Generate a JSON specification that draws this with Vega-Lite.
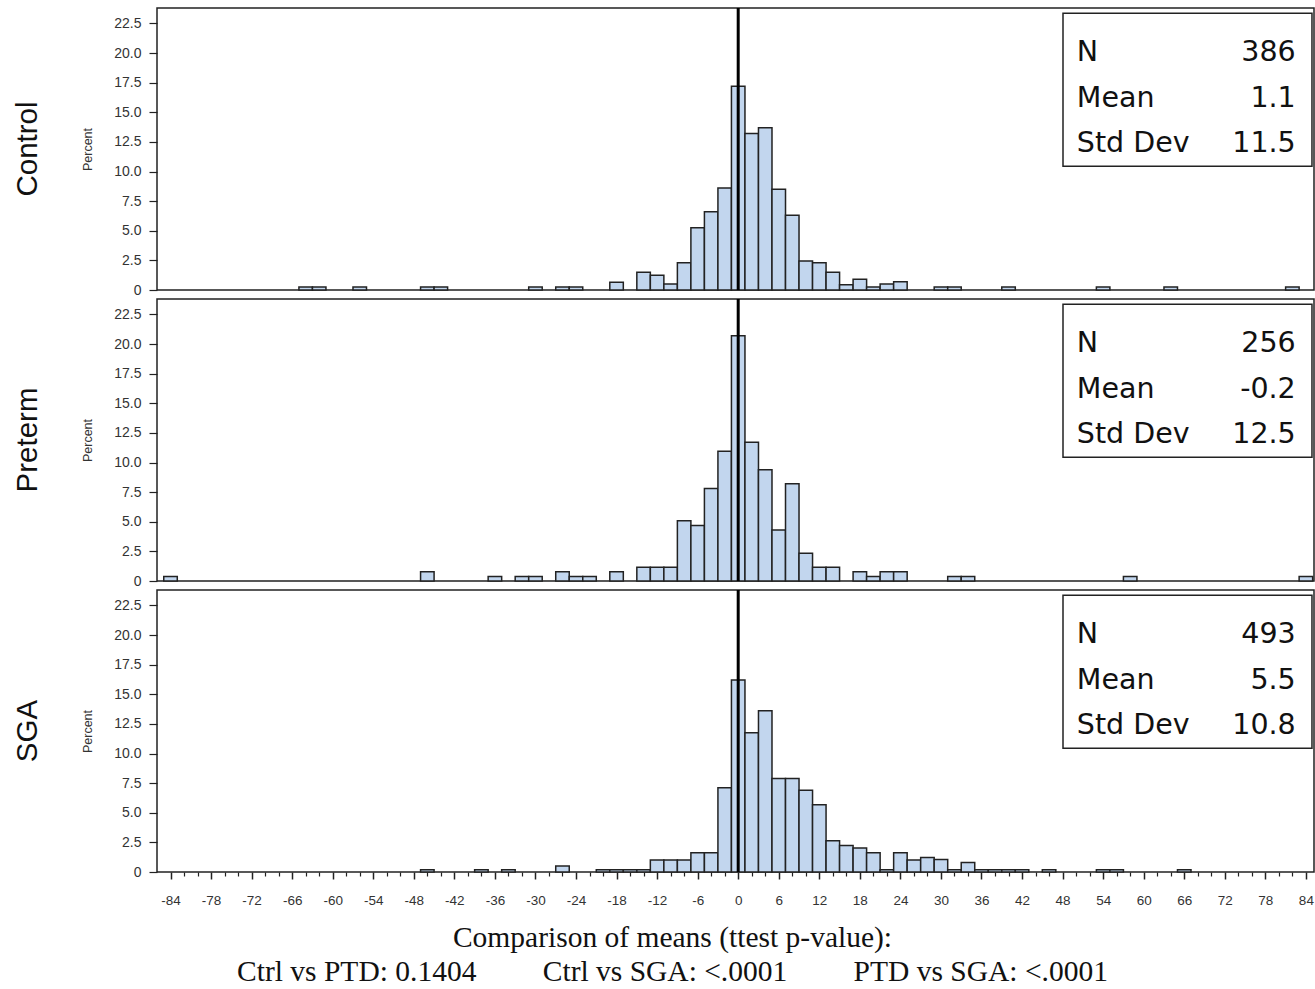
{
  "$schema": "https://vega.github.io/schema/vega-lite/v6.json",
  "padding": {"left": 12, "top": 5, "right": 0, "bottom": 0},
  "spacing": 9,
  "bounds": "flush",
  "config": {
    "view": {"stroke": "#222", "strokeWidth": 1.5},
    "font": "Liberation Sans",
    "axis": {"grid": false, "labelFont": "Liberation Sans", "titleFont": "Liberation Sans"},
    "text": {"font": "DejaVu Sans", "fontSize": 28.5, "color": "#111", "baseline": "middle"}
  },
  "datasets": {
    "control": [
      {"lo": -65, "hi": -63, "pct": 0.26}, {"lo": -63, "hi": -61, "pct": 0.26}, {"lo": -57, "hi": -55, "pct": 0.26},
      {"lo": -47, "hi": -45, "pct": 0.26}, {"lo": -45, "hi": -43, "pct": 0.26}, {"lo": -31, "hi": -29, "pct": 0.26},
      {"lo": -27, "hi": -25, "pct": 0.26}, {"lo": -25, "hi": -23, "pct": 0.26}, {"lo": -19, "hi": -17, "pct": 0.65},
      {"lo": -15, "hi": -13, "pct": 1.5}, {"lo": -13, "hi": -11, "pct": 1.25}, {"lo": -11, "hi": -9, "pct": 0.5},
      {"lo": -9, "hi": -7, "pct": 2.3}, {"lo": -7, "hi": -5, "pct": 5.25}, {"lo": -5, "hi": -3, "pct": 6.6},
      {"lo": -3, "hi": -1, "pct": 8.6}, {"lo": -1, "hi": 1, "pct": 17.2}, {"lo": 1, "hi": 3, "pct": 13.2},
      {"lo": 3, "hi": 5, "pct": 13.7}, {"lo": 5, "hi": 7, "pct": 8.5}, {"lo": 7, "hi": 9, "pct": 6.3},
      {"lo": 9, "hi": 11, "pct": 2.45}, {"lo": 11, "hi": 13, "pct": 2.3}, {"lo": 13, "hi": 15, "pct": 1.5},
      {"lo": 15, "hi": 17, "pct": 0.45}, {"lo": 17, "hi": 19, "pct": 0.9}, {"lo": 19, "hi": 21, "pct": 0.26},
      {"lo": 21, "hi": 23, "pct": 0.5}, {"lo": 23, "hi": 25, "pct": 0.7}, {"lo": 29, "hi": 31, "pct": 0.26},
      {"lo": 31, "hi": 33, "pct": 0.26}, {"lo": 39, "hi": 41, "pct": 0.26}, {"lo": 53, "hi": 55, "pct": 0.26},
      {"lo": 63, "hi": 65, "pct": 0.26}, {"lo": 81, "hi": 83, "pct": 0.26}
    ],
    "preterm": [
      {"lo": -85, "hi": -83, "pct": 0.39}, {"lo": -47, "hi": -45, "pct": 0.78}, {"lo": -37, "hi": -35, "pct": 0.39},
      {"lo": -33, "hi": -31, "pct": 0.39}, {"lo": -31, "hi": -29, "pct": 0.39}, {"lo": -27, "hi": -25, "pct": 0.78},
      {"lo": -25, "hi": -23, "pct": 0.39}, {"lo": -23, "hi": -21, "pct": 0.39}, {"lo": -19, "hi": -17, "pct": 0.78},
      {"lo": -15, "hi": -13, "pct": 1.17}, {"lo": -13, "hi": -11, "pct": 1.17}, {"lo": -11, "hi": -9, "pct": 1.17},
      {"lo": -9, "hi": -7, "pct": 5.08}, {"lo": -7, "hi": -5, "pct": 4.69}, {"lo": -5, "hi": -3, "pct": 7.81},
      {"lo": -3, "hi": -1, "pct": 10.94}, {"lo": -1, "hi": 1, "pct": 20.7}, {"lo": 1, "hi": 3, "pct": 11.72},
      {"lo": 3, "hi": 5, "pct": 9.38}, {"lo": 5, "hi": 7, "pct": 4.3}, {"lo": 7, "hi": 9, "pct": 8.2},
      {"lo": 9, "hi": 11, "pct": 2.34}, {"lo": 11, "hi": 13, "pct": 1.17}, {"lo": 13, "hi": 15, "pct": 1.17},
      {"lo": 17, "hi": 19, "pct": 0.78}, {"lo": 19, "hi": 21, "pct": 0.39}, {"lo": 21, "hi": 23, "pct": 0.78},
      {"lo": 23, "hi": 25, "pct": 0.78}, {"lo": 31, "hi": 33, "pct": 0.39}, {"lo": 33, "hi": 35, "pct": 0.39},
      {"lo": 57, "hi": 59, "pct": 0.39}, {"lo": 83, "hi": 85, "pct": 0.39}
    ],
    "sga": [
      {"lo": -47, "hi": -45, "pct": 0.2}, {"lo": -39, "hi": -37, "pct": 0.2}, {"lo": -35, "hi": -33, "pct": 0.2},
      {"lo": -27, "hi": -25, "pct": 0.5}, {"lo": -21, "hi": -19, "pct": 0.2}, {"lo": -19, "hi": -17, "pct": 0.2},
      {"lo": -17, "hi": -15, "pct": 0.2}, {"lo": -15, "hi": -13, "pct": 0.2}, {"lo": -13, "hi": -11, "pct": 1.01},
      {"lo": -11, "hi": -9, "pct": 1.01}, {"lo": -9, "hi": -7, "pct": 1.01}, {"lo": -7, "hi": -5, "pct": 1.62},
      {"lo": -5, "hi": -3, "pct": 1.62}, {"lo": -3, "hi": -1, "pct": 7.1}, {"lo": -1, "hi": 1, "pct": 16.2},
      {"lo": 1, "hi": 3, "pct": 11.76}, {"lo": 3, "hi": 5, "pct": 13.6}, {"lo": 5, "hi": 7, "pct": 7.9},
      {"lo": 7, "hi": 9, "pct": 7.9}, {"lo": 9, "hi": 11, "pct": 6.9}, {"lo": 11, "hi": 13, "pct": 5.68},
      {"lo": 13, "hi": 15, "pct": 2.64}, {"lo": 15, "hi": 17, "pct": 2.23}, {"lo": 17, "hi": 19, "pct": 2.03},
      {"lo": 19, "hi": 21, "pct": 1.62}, {"lo": 21, "hi": 23, "pct": 0.2}, {"lo": 23, "hi": 25, "pct": 1.62},
      {"lo": 25, "hi": 27, "pct": 1.01}, {"lo": 27, "hi": 29, "pct": 1.22}, {"lo": 29, "hi": 31, "pct": 1.05},
      {"lo": 31, "hi": 33, "pct": 0.2}, {"lo": 33, "hi": 35, "pct": 0.81}, {"lo": 35, "hi": 37, "pct": 0.2},
      {"lo": 37, "hi": 39, "pct": 0.2}, {"lo": 39, "hi": 41, "pct": 0.2}, {"lo": 41, "hi": 43, "pct": 0.2},
      {"lo": 45, "hi": 47, "pct": 0.2}, {"lo": 53, "hi": 55, "pct": 0.2}, {"lo": 55, "hi": 57, "pct": 0.2},
      {"lo": 65, "hi": 67, "pct": 0.2}
    ],
    "stats_control": [{"stat": "N", "value": "386"}, {"stat": "Mean", "value": "1.1"}, {"stat": "Std Dev", "value": "11.5"}],
    "stats_preterm": [{"stat": "N", "value": "256"}, {"stat": "Mean", "value": "-0.2"}, {"stat": "Std Dev", "value": "12.5"}],
    "stats_sga": [{"stat": "N", "value": "493"}, {"stat": "Mean", "value": "5.5"}, {"stat": "Std Dev", "value": "10.8"}]
  },
  "vconcat": [
    {
      "width": 1157, "height": 282,
      "title": {"text": "Control", "orient": "left", "anchor": "middle", "fontSize": 29.5, "fontWeight": "normal", "font": "Liberation Sans", "color": "#111", "offset": 38},
      "resolve": {"axis": {"x": "independent", "y": "independent"}},
      "layer": [
        {
          "data": {"name": "control"},
          "mark": {"type": "rect", "fill": "#c2d6ee", "stroke": "#222", "strokeWidth": 1.5},
          "encoding": {
            "x": {"field": "lo", "type": "quantitative", "scale": {"domain": [-86, 85.2], "nice": false, "zero": false}, "axis": null},
            "x2": {"field": "hi"},
            "y": {"field": "pct", "type": "quantitative", "scale": {"domain": [0, 23.8], "nice": false},
              "axis": {"values": [0, 2.5, 5, 7.5, 10, 12.5, 15, 17.5, 20, 22.5], "labelExpr": "datum.value == 0 ? '0' : format(datum.value, '.1f')", "labelOverlap": false, "labelFlush": false, "title": "Percent", "titleFontSize": 12.5, "titleFontWeight": "normal", "titleColor": "#333", "labelFontSize": 14, "labelColor": "#333", "tickSize": 8, "tickColor": "#222", "tickWidth": 1.2, "domain": false, "labelPadding": 8, "titlePadding": 19}},
            "y2": {"datum": 0}
          }
        },
        {"data": {"values": [{}]}, "mark": {"type": "rule", "stroke": "#000", "strokeWidth": 3}, "encoding": {"x": {"datum": 0, "axis": null}}},
        {"data": {"values": [{}]}, "mark": {"type": "rect", "fill": "white", "stroke": "#222", "strokeWidth": 1.5},
          "encoding": {"x": {"datum": 48.06, "axis": null}, "x2": {"datum": 84.9}, "y": {"datum": 23.35, "axis": null}, "y2": {"datum": 10.45}}},
        {"data": {"name": "stats_control"}, "transform": [{"filter": "datum.stat == 'N'"}], "mark": {"type": "text", "align": "left"}, "encoding": {"x": {"datum": 50.1, "axis": null}, "y": {"datum": 20.09, "axis": null}, "text": {"field": "stat"}}},
        {"data": {"name": "stats_control"}, "transform": [{"filter": "datum.stat == 'Mean'"}], "mark": {"type": "text", "align": "left"}, "encoding": {"x": {"datum": 50.1, "axis": null}, "y": {"datum": 16.2, "axis": null}, "text": {"field": "stat"}}},
        {"data": {"name": "stats_control"}, "transform": [{"filter": "datum.stat == 'Std Dev'"}], "mark": {"type": "text", "align": "left"}, "encoding": {"x": {"datum": 50.1, "axis": null}, "y": {"datum": 12.41, "axis": null}, "text": {"field": "stat"}}},
        {"data": {"name": "stats_control"}, "transform": [{"filter": "datum.stat == 'N'"}], "mark": {"type": "text", "align": "right"}, "encoding": {"x": {"datum": 82.5, "axis": null}, "y": {"datum": 20.09, "axis": null}, "text": {"field": "value"}}},
        {"data": {"name": "stats_control"}, "transform": [{"filter": "datum.stat == 'Mean'"}], "mark": {"type": "text", "align": "right"}, "encoding": {"x": {"datum": 82.5, "axis": null}, "y": {"datum": 16.2, "axis": null}, "text": {"field": "value"}}},
        {"data": {"name": "stats_control"}, "transform": [{"filter": "datum.stat == 'Std Dev'"}], "mark": {"type": "text", "align": "right"}, "encoding": {"x": {"datum": 82.5, "axis": null}, "y": {"datum": 12.41, "axis": null}, "text": {"field": "value"}}}
      ]
    },
    {
      "width": 1157, "height": 282,
      "title": {"text": "Preterm", "orient": "left", "anchor": "middle", "fontSize": 29.5, "fontWeight": "normal", "font": "Liberation Sans", "color": "#111", "offset": 38},
      "resolve": {"axis": {"x": "independent", "y": "independent"}},
      "layer": [
        {
          "data": {"name": "preterm"},
          "mark": {"type": "rect", "fill": "#c2d6ee", "stroke": "#222", "strokeWidth": 1.5},
          "encoding": {
            "x": {"field": "lo", "type": "quantitative", "scale": {"domain": [-86, 85.2], "nice": false, "zero": false}, "axis": null},
            "x2": {"field": "hi"},
            "y": {"field": "pct", "type": "quantitative", "scale": {"domain": [0, 23.8], "nice": false},
              "axis": {"values": [0, 2.5, 5, 7.5, 10, 12.5, 15, 17.5, 20, 22.5], "labelExpr": "datum.value == 0 ? '0' : format(datum.value, '.1f')", "labelOverlap": false, "labelFlush": false, "title": "Percent", "titleFontSize": 12.5, "titleFontWeight": "normal", "titleColor": "#333", "labelFontSize": 14, "labelColor": "#333", "tickSize": 8, "tickColor": "#222", "tickWidth": 1.2, "domain": false, "labelPadding": 8, "titlePadding": 19}},
            "y2": {"datum": 0}
          }
        },
        {"data": {"values": [{}]}, "mark": {"type": "rule", "stroke": "#000", "strokeWidth": 3}, "encoding": {"x": {"datum": 0, "axis": null}}},
        {"data": {"values": [{}]}, "mark": {"type": "rect", "fill": "white", "stroke": "#222", "strokeWidth": 1.5},
          "encoding": {"x": {"datum": 48.06, "axis": null}, "x2": {"datum": 84.9}, "y": {"datum": 23.35, "axis": null}, "y2": {"datum": 10.45}}},
        {"data": {"name": "stats_preterm"}, "transform": [{"filter": "datum.stat == 'N'"}], "mark": {"type": "text", "align": "left"}, "encoding": {"x": {"datum": 50.1, "axis": null}, "y": {"datum": 20.09, "axis": null}, "text": {"field": "stat"}}},
        {"data": {"name": "stats_preterm"}, "transform": [{"filter": "datum.stat == 'Mean'"}], "mark": {"type": "text", "align": "left"}, "encoding": {"x": {"datum": 50.1, "axis": null}, "y": {"datum": 16.2, "axis": null}, "text": {"field": "stat"}}},
        {"data": {"name": "stats_preterm"}, "transform": [{"filter": "datum.stat == 'Std Dev'"}], "mark": {"type": "text", "align": "left"}, "encoding": {"x": {"datum": 50.1, "axis": null}, "y": {"datum": 12.41, "axis": null}, "text": {"field": "stat"}}},
        {"data": {"name": "stats_preterm"}, "transform": [{"filter": "datum.stat == 'N'"}], "mark": {"type": "text", "align": "right"}, "encoding": {"x": {"datum": 82.5, "axis": null}, "y": {"datum": 20.09, "axis": null}, "text": {"field": "value"}}},
        {"data": {"name": "stats_preterm"}, "transform": [{"filter": "datum.stat == 'Mean'"}], "mark": {"type": "text", "align": "right"}, "encoding": {"x": {"datum": 82.5, "axis": null}, "y": {"datum": 16.2, "axis": null}, "text": {"field": "value"}}},
        {"data": {"name": "stats_preterm"}, "transform": [{"filter": "datum.stat == 'Std Dev'"}], "mark": {"type": "text", "align": "right"}, "encoding": {"x": {"datum": 82.5, "axis": null}, "y": {"datum": 12.41, "axis": null}, "text": {"field": "value"}}}
      ]
    },
    {
      "width": 1157, "height": 282,
      "title": {"text": "SGA", "orient": "left", "anchor": "middle", "fontSize": 29.5, "fontWeight": "normal", "font": "Liberation Sans", "color": "#111", "offset": 38},
      "resolve": {"axis": {"x": "independent", "y": "independent"}},
      "layer": [
        {
          "data": {"name": "sga"},
          "mark": {"type": "rect", "fill": "#c2d6ee", "stroke": "#222", "strokeWidth": 1.5},
          "encoding": {
            "x": {"field": "lo", "type": "quantitative", "scale": {"domain": [-86, 85.2], "nice": false, "zero": false},
              "axis": {"orient": "bottom", "values": [-84, -78, -72, -66, -60, -54, -48, -42, -36, -30, -24, -18, -12, -6, 0, 6, 12, 18, 24, 30, 36, 42, 48, 54, 60, 66, 72, 78, 84], "labelExpr": "'' + datum.value", "labelFontSize": 13.5, "labelColor": "#333", "tickSize": 7, "tickColor": "#222", "tickWidth": 1.5, "domain": false, "labelPadding": 14, "labelFlush": false, "labelOverlap": false,
                "title": ["Comparison of means (ttest p-value):", "Ctrl vs PTD: 0.1404\u00a0\u00a0\u00a0\u00a0\u00a0\u00a0\u00a0\u00a0\u00a0Ctrl vs SGA: <.0001\u00a0\u00a0\u00a0\u00a0\u00a0\u00a0\u00a0\u00a0\u00a0PTD vs SGA: <.0001"], "titleFont": "Liberation Serif", "titleFontSize": 29.5, "titleFontWeight": "normal", "titleColor": "#111", "titleLineHeight": 34, "titlePadding": 17, "titleX": 515, "titleAlign": "center"}},
            "x2": {"field": "hi"},
            "y": {"field": "pct", "type": "quantitative", "scale": {"domain": [0, 23.8], "nice": false},
              "axis": {"values": [0, 2.5, 5, 7.5, 10, 12.5, 15, 17.5, 20, 22.5], "labelExpr": "datum.value == 0 ? '0' : format(datum.value, '.1f')", "labelOverlap": false, "labelFlush": false, "title": "Percent", "titleFontSize": 12.5, "titleFontWeight": "normal", "titleColor": "#333", "labelFontSize": 14, "labelColor": "#333", "tickSize": 8, "tickColor": "#222", "tickWidth": 1.2, "domain": false, "labelPadding": 8, "titlePadding": 19}},
            "y2": {"datum": 0}
          }
        },
        {"data": {"values": [{}]}, "mark": {"type": "rule", "stroke": "#000", "strokeWidth": 3},
          "encoding": {"x": {"datum": 0, "axis": {"orient": "bottom", "values": [-82, -80, -76, -74, -70, -68, -64, -62, -58, -56, -52, -50, -46, -44, -40, -38, -34, -32, -28, -26, -22, -20, -16, -14, -10, -8, -4, -2, 2, 4, 8, 10, 14, 16, 20, 22, 26, 28, 32, 34, 38, 40, 44, 46, 50, 52, 56, 58, 62, 64, 68, 70, 74, 76, 80, 82], "labels": false, "title": null, "domain": false, "tickSize": 4, "tickColor": "#222", "tickWidth": 1.2}}}},
        {"data": {"values": [{}]}, "mark": {"type": "rect", "fill": "white", "stroke": "#222", "strokeWidth": 1.5},
          "encoding": {"x": {"datum": 48.06, "axis": null}, "x2": {"datum": 84.9}, "y": {"datum": 23.35, "axis": null}, "y2": {"datum": 10.45}}},
        {"data": {"name": "stats_sga"}, "transform": [{"filter": "datum.stat == 'N'"}], "mark": {"type": "text", "align": "left"}, "encoding": {"x": {"datum": 50.1, "axis": null}, "y": {"datum": 20.09, "axis": null}, "text": {"field": "stat"}}},
        {"data": {"name": "stats_sga"}, "transform": [{"filter": "datum.stat == 'Mean'"}], "mark": {"type": "text", "align": "left"}, "encoding": {"x": {"datum": 50.1, "axis": null}, "y": {"datum": 16.2, "axis": null}, "text": {"field": "stat"}}},
        {"data": {"name": "stats_sga"}, "transform": [{"filter": "datum.stat == 'Std Dev'"}], "mark": {"type": "text", "align": "left"}, "encoding": {"x": {"datum": 50.1, "axis": null}, "y": {"datum": 12.41, "axis": null}, "text": {"field": "stat"}}},
        {"data": {"name": "stats_sga"}, "transform": [{"filter": "datum.stat == 'N'"}], "mark": {"type": "text", "align": "right"}, "encoding": {"x": {"datum": 82.5, "axis": null}, "y": {"datum": 20.09, "axis": null}, "text": {"field": "value"}}},
        {"data": {"name": "stats_sga"}, "transform": [{"filter": "datum.stat == 'Mean'"}], "mark": {"type": "text", "align": "right"}, "encoding": {"x": {"datum": 82.5, "axis": null}, "y": {"datum": 16.2, "axis": null}, "text": {"field": "value"}}},
        {"data": {"name": "stats_sga"}, "transform": [{"filter": "datum.stat == 'Std Dev'"}], "mark": {"type": "text", "align": "right"}, "encoding": {"x": {"datum": 82.5, "axis": null}, "y": {"datum": 12.41, "axis": null}, "text": {"field": "value"}}}
      ]
    }
  ]
}
